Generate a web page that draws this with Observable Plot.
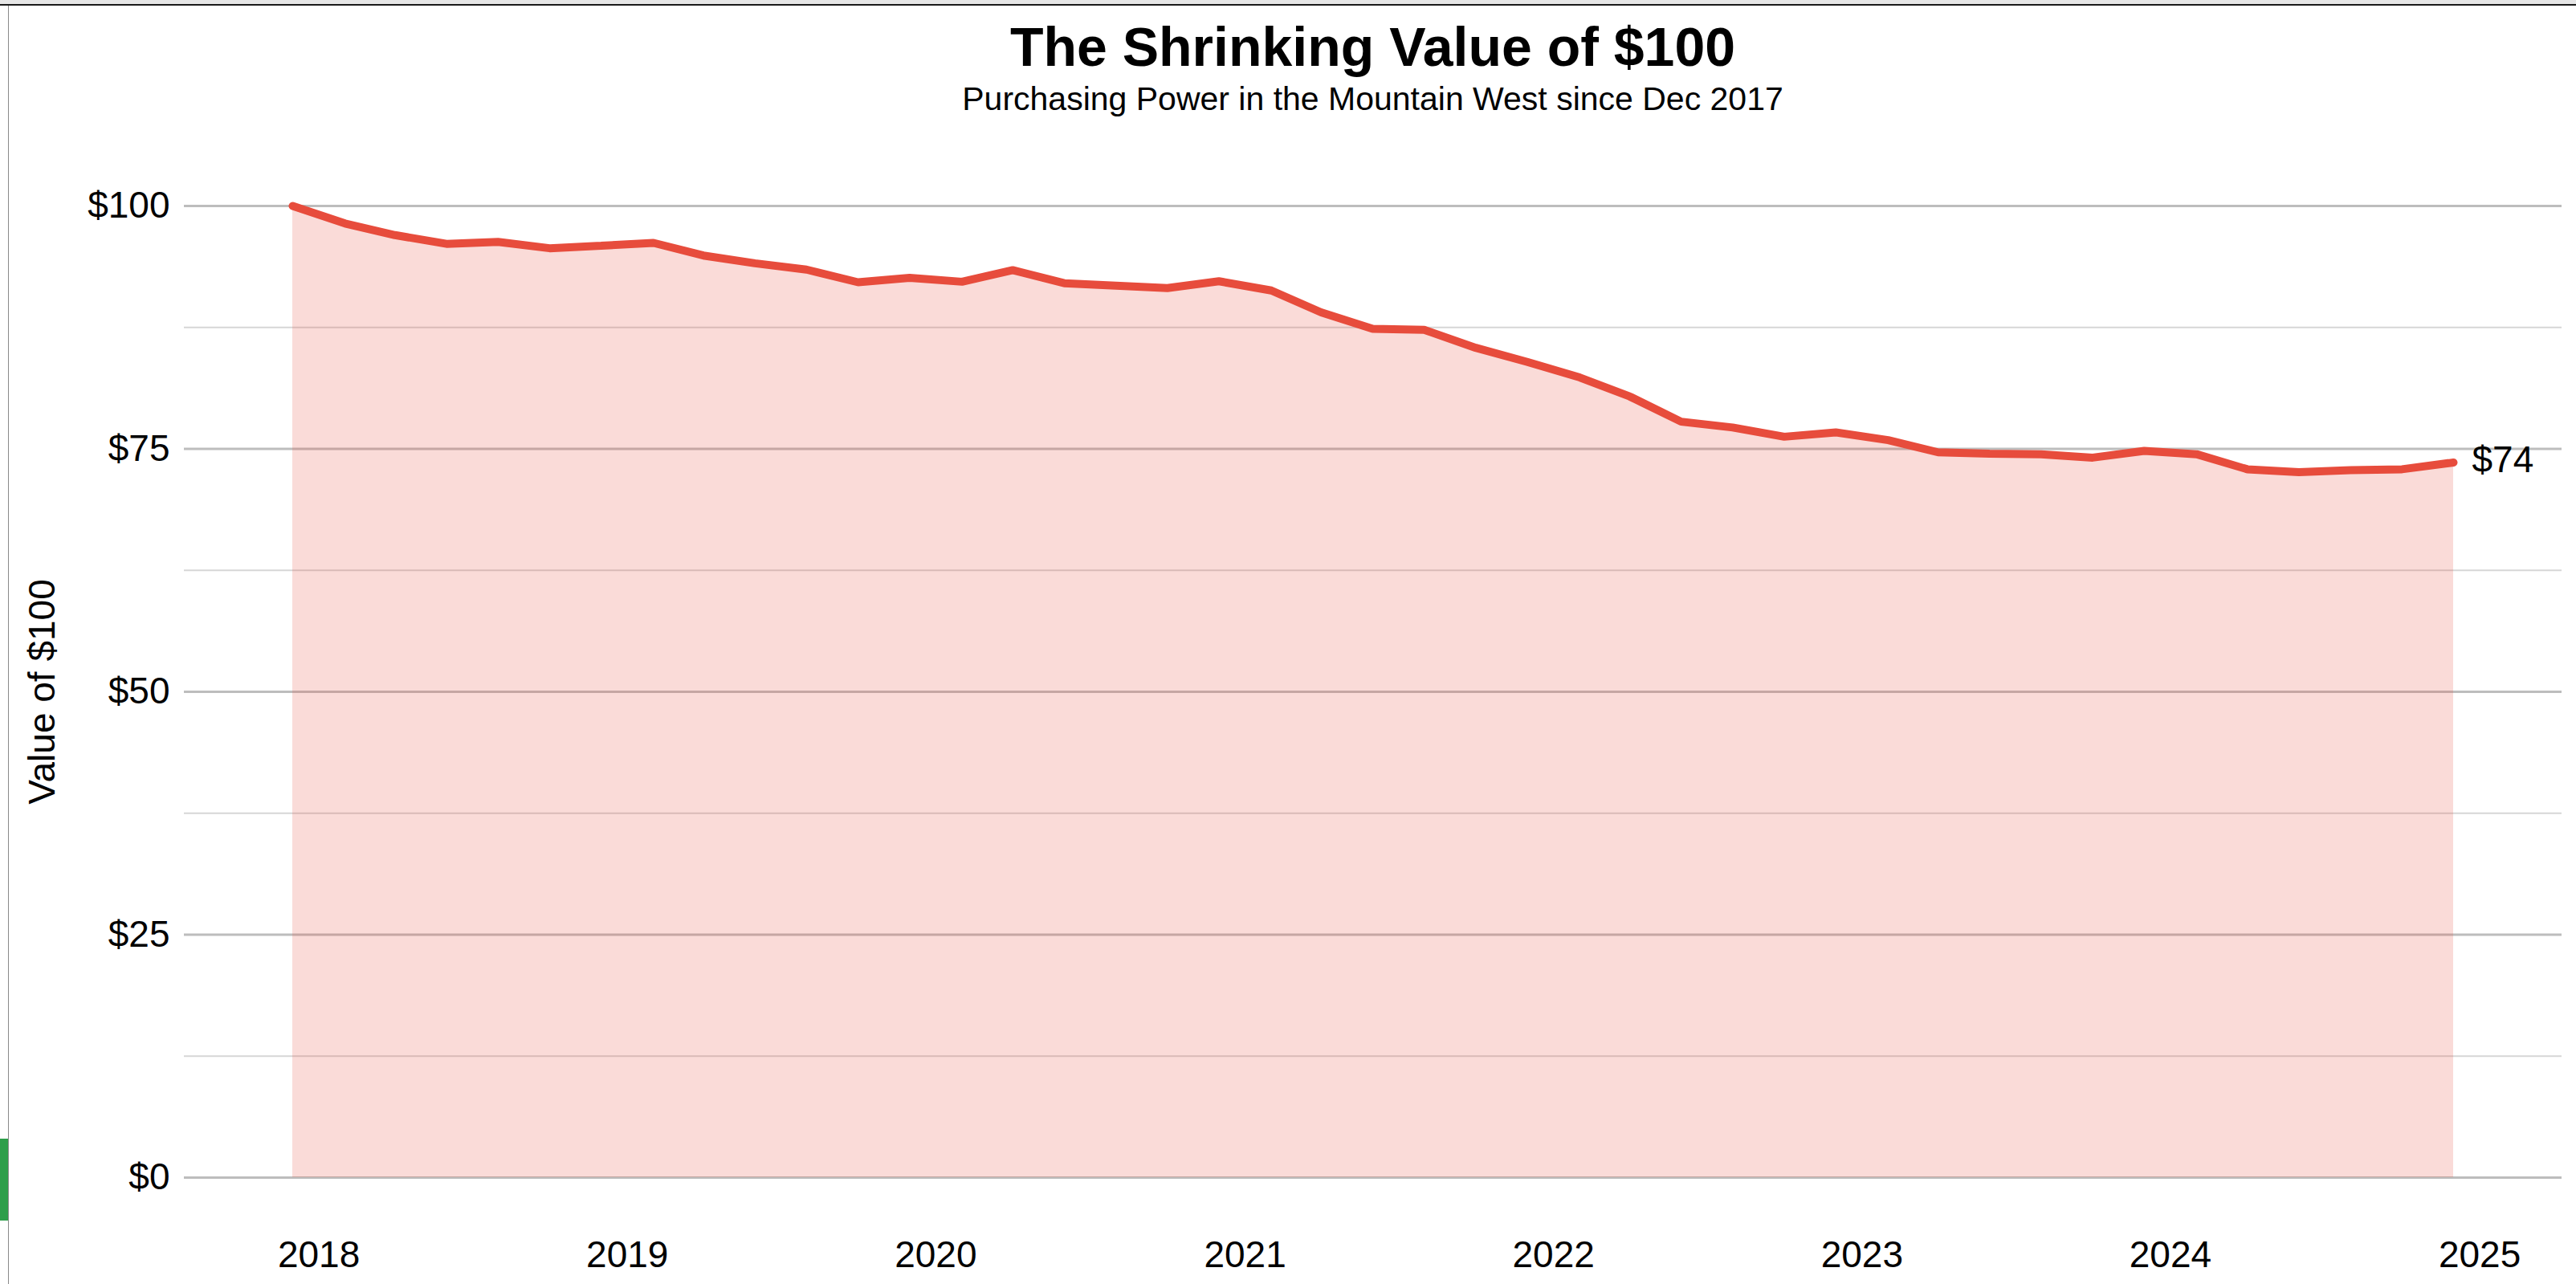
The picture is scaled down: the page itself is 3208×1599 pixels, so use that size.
<!DOCTYPE html>
<html>
<head>
<meta charset="utf-8">
<script src="https://cdn.jsdelivr.net/npm/d3@7"></script>
<script src="https://cdn.jsdelivr.net/npm/@observablehq/plot@0.6"></script>
<style>
  html, body { margin: 0; padding: 0; background: #fff; }
  #page { position: relative; width: 3208px; height: 1599px; overflow: hidden; background: #fff;
          font-family: "Liberation Sans", Arial, Helvetica, sans-serif; color: #000; }
  #topband { position: absolute; left: 0; top: 0; width: 3208px; height: 5px; background: #e6e6e6; }
  #topline { position: absolute; left: 0; top: 5px; width: 3208px; height: 2px; background: #1a1a1a; }
  #leftline { position: absolute; left: 10px; top: 7px; width: 1px; height: 1592px; background: #8a8a8a; }
  #greenbar { position: absolute; left: 0; top: 1418px; width: 10px; height: 102px; background: #2e9e4a; }
  #title { position: absolute; left: 229px; width: 2961px; top: 24px; text-align: center;
           font-size: 68px; line-height: 68px; font-weight: bold; }
  #subtitle { position: absolute; left: 229px; width: 2961px; top: 103px; text-align: center;
              font-size: 41px; line-height: 41px; }
  #chart { position: absolute; left: 0; top: 160px; }
</style>
</head>
<body>
<div id="page">
  <div id="topband"></div>
  <div id="topline"></div>
  <div id="leftline"></div>
  <div id="greenbar"></div>
  <div id="title">The Shrinking Value of $100</div>
  <div id="subtitle">Purchasing Power in the Mountain West since Dec 2017</div>
  <div id="chart"></div>
</div>
<script>
// ---- Data ----
const months = [
  "2017-12","2018-02","2018-04","2018-06","2018-08","2018-10",
  "2018-12","2019-02","2019-04","2019-06","2019-08","2019-10",
  "2019-12","2020-02","2020-04","2020-06","2020-08","2020-10",
  "2020-12","2021-02","2021-04","2021-06","2021-08","2021-10",
  "2021-12","2022-02","2022-04","2022-06","2022-08","2022-10",
  "2022-12","2023-02","2023-04","2023-06","2023-08","2023-10",
  "2023-12","2024-02","2024-04","2024-06","2024-08","2024-10",
  "2024-12"
];
const values = [
  100.0, 98.2, 97.0, 96.1, 96.3, 95.65,
  95.9, 96.2, 94.9, 94.1, 93.45, 92.15,
  92.6, 92.2, 93.4, 92.05, 91.8, 91.55,
  92.25, 91.3, 89.05, 87.35, 87.25, 85.4,
  83.95, 82.35, 80.4, 77.8, 77.2, 76.25,
  76.7, 75.9, 74.65, 74.5, 74.45, 74.1,
  74.8, 74.45, 72.9, 72.6, 72.8, 72.9,
  73.6
];
const yTicks = [0, 25, 50, 75, 100];
const yMinorTicks = [12.5, 37.5, 62.5, 87.5];
const yearTicks = [2018, 2019, 2020, 2021, 2022, 2023, 2024, 2025];

// ---- Build table ----
const parseMonth = d3.utcParse("%Y-%m");
const data = months.map((m, i) => ({date: parseMonth(m), value: values[i]}));
const last = data[data.length - 1];
const xTickDates = yearTicks.map(y => new Date(Date.UTC(y, 0, 1)));

const red = "#e74c3c";
const fontFamily = '"Liberation Sans", Arial, Helvetica, sans-serif';

const chart = Plot.plot({
  width: 3208,
  height: 1439,
  marginTop: 96,
  marginBottom: 133,
  marginLeft: 229,
  marginRight: 18,
  style: {fontFamily, fontSize: "46px", color: "#000", background: "transparent", overflow: "visible"},
  x: {type: "utc", domain: [data[0].date, last.date], insetLeft: 135, insetRight: 135},
  y: {domain: [0, 100]},
  marks: [
    Plot.ruleY(yMinorTicks, {stroke: "#d6d6d6", strokeWidth: 2}),
    Plot.ruleY(yTicks, {stroke: "#bdbdbd", strokeWidth: 3}),
    Plot.areaY(data, {x: "date", y: "value", fill: red, fillOpacity: 0.2}),
    Plot.lineY(data, {x: "date", y: "value", stroke: red, strokeWidth: 10, strokeLinejoin: "miter"}),
    Plot.axisY({
      ticks: yTicks, tickFormat: d => "$" + d, tickSize: 0, tickPadding: 18,
      fontSize: 46, fill: "#000",
      label: "Value of $100", labelAnchor: "center", labelOffset: 194, labelArrow: "none"
    }),
    Plot.axisX({
      ticks: xTickDates, tickFormat: d3.utcFormat("%Y"), tickSize: 0, tickPadding: 79,
      fontSize: 46, fill: "#000", label: null
    }),
    Plot.text([last], {
      x: "date", y: "value", text: d => "$" + Math.round(d.value),
      textAnchor: "start", dx: 23, dy: -3, fontSize: 46, fill: "#000"
    })
  ]
});
document.getElementById("chart").appendChild(chart);
</script>
</body>
</html>
